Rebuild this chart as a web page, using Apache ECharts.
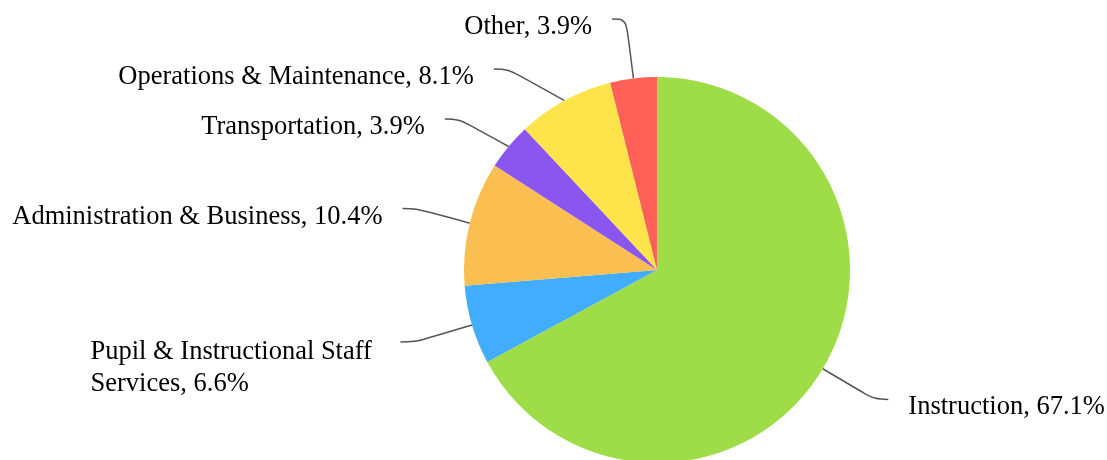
<!DOCTYPE html>
<html lang="en">
<head>
  <meta charset="UTF-8">
  <title>pie</title>
  <script src="https://cdn.jsdelivr.net/npm/echarts@6/dist/echarts.min.js"></script>
  <style>
    html, body { margin: 0; padding: 0; background: #fff; overflow: hidden; }
    /* canvas reaches above the window, so the top label is not clamped */
    #main { position: absolute; left: 0; top: -40px; width: 1107px; height: 540px; }
  </style>
</head>
<body>
  <div id="main"></div>
  <script type="text/javascript">
    var categories = ['Instruction', 'Pupil & Instructional Staff Services', 'Administration & Business',
      'Transportation', 'Operations & Maintenance', 'Other']
    var shares = [67.1, 6.6, 10.4, 3.9, 8.1, 3.9]
    var colors = ['#9edc48', '#42adfe', '#fabf50', '#8b56ef', '#fee44b', '#ff6158']

    var font = { fontFamily: 'Liberation Serif', fontSize: 26.5, color: '#000' }

    function labelText(p) {
      return '{t|' + p.name + ', ' + p.value.toFixed(1) + '%}'
    }

    var data = categories.map(function (name, i) {
      var item = { name: name, value: shares[i], itemStyle: { color: colors[i] } }
      if (i === 1) {
        // wrapped label, lines left aligned
        item.label = {
          width: 290,
          overflow: 'break',
          padding: [51, 15, 0, 15],
          rich: { t: Object.assign({ align: 'left', lineHeight: 32 }, font) }
        }
      }
      return item
    })

    var myChart = echarts.init(document.getElementById('main'))
    myChart.setOption({
      backgroundColor: '#fff',
      animation: false,
      series: [{
        type: 'pie',
        center: [657, 310],
        radius: 193,
        startAngle: 90,
        clockwise: true,
        data: data,
        label: {
          formatter: labelText,
          overflow: 'none',
          // transparent box so the padding counts when labels push each other
          backgroundColor: 'rgba(255,255,255,0)',
          padding: [17, 15, 1, 15],
          rich: { t: Object.assign({ lineHeight: 30 }, font) }
        },
        labelLine: {
          length: 60,
          length2: 14,
          smooth: 0.4,
          lineStyle: { color: '#555', width: 1.5 }
        }
      }]
    })
  </script>
</body>
</html>
